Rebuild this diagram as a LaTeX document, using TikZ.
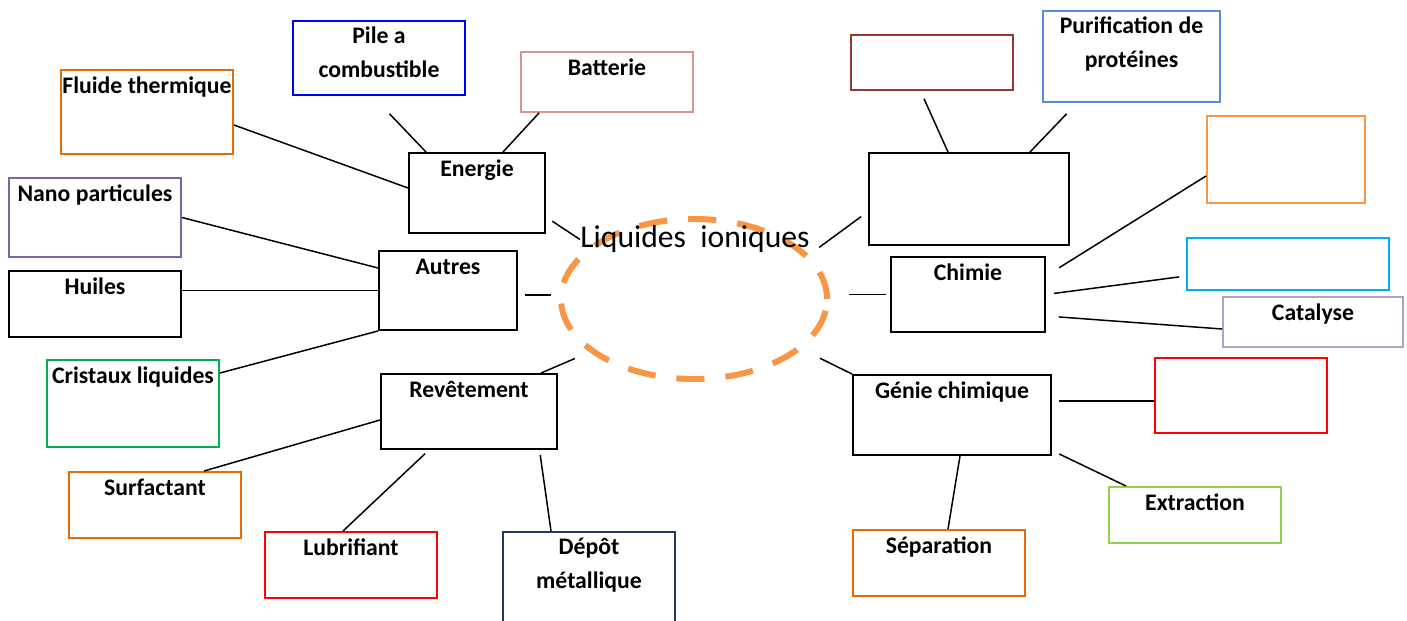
\documentclass[tikz,border=0pt]{standalone}
\usepackage{fontspec}
\setmainfont{Carlito}
\usepackage{xcolor}
\usetikzlibrary{shapes.geometric}

\definecolor{orangefonce}{HTML}{E46C0A}
\definecolor{orangeclair}{HTML}{F79646}
\definecolor{bleupile}{HTML}{0000FF}
\definecolor{rosebat}{HTML}{D99594}
\definecolor{violetnano}{HTML}{8064A2}
\definecolor{vertcrist}{HTML}{00B050}
\definecolor{rougevif}{HTML}{FF0000}
\definecolor{bleunuit}{HTML}{1F3864}
\definecolor{rougebrun}{HTML}{953735}
\definecolor{bleupuri}{HTML}{558ED5}
\definecolor{cyanvif}{HTML}{00B0F0}
\definecolor{lavande}{HTML}{B3A2C7}
\definecolor{vertclair}{HTML}{92D050}

\begin{document}
\begin{tikzpicture}[
	boite/.style={draw, line width=1.1pt, inner sep=0pt},
	etiq/.style={anchor=base, yshift=-0.48cm, inner sep=0pt, align=center, font=\fontsize{13.5}{18.8}\selectfont\bfseries},
	etiqdeux/.style={etiq, yshift=-0.66cm},
	lien/.style={line width=0.85pt}
]
	\clip (0,0) rectangle (28.14,-12.42);
	\fill[white] (0,0) rectangle (28.14,-12.42);

	\node[ellipse, draw=orangeclair, line width=3.4pt, dash pattern=on 16pt off 12pt, minimum width=5.32cm, minimum height=3.2cm, inner sep=0pt] (ovale) at (13.88,-5.98) {};
	\node[anchor=base, inner sep=0pt, font=\fontsize{18}{22}\selectfont] (centre) at (13.9,-4.96) {Liquides\ \ ioniques};

	\node[boite, draw=bleupile, minimum width=3.44cm, minimum height=1.48cm, label={[etiqdeux]north:{Pile a\\combustible}}] (pile) at (7.58,-1.16) {};
	\node[boite, draw=rosebat, minimum width=3.44cm, minimum height=1.2cm, label={[etiq]north:Batterie}] (batterie) at (12.14,-1.64) {};
	\node[boite, draw=orangefonce, minimum width=3.44cm, minimum height=1.68cm, label={[etiq]north:Fluide thermique}] (fluide) at (2.94,-2.24) {};
	\node[boite, minimum width=2.72cm, minimum height=1.6cm, label={[etiq]north:Energie}] (energie) at (9.54,-3.86) {};
	\node[boite, draw=violetnano, minimum width=3.44cm, minimum height=1.58cm, label={[etiq]north:Nano particules}] (nano) at (1.9,-4.35) {};
	\node[boite, minimum width=2.76cm, minimum height=1.58cm, label={[etiq]north:Autres}] (autres) at (8.96,-5.81) {};
	\node[boite, minimum width=3.44cm, minimum height=1.32cm, label={[etiq]north:Huiles}] (huiles) at (1.9,-6.08) {};
	\node[boite, draw=vertcrist, minimum width=3.44cm, minimum height=1.74cm, label={[etiq]north:Cristaux liquides}] (cristaux) at (2.66,-8.07) {};
	\node[boite, minimum width=3.52cm, minimum height=1.5cm, label={[etiq]north:Revêtement}] (revetement) at (9.38,-8.23) {};
	\node[boite, draw=orangefonce, minimum width=3.44cm, minimum height=1.32cm, label={[etiq]north:Surfactant}] (surfactant) at (3.1,-10.1) {};
	\node[boite, draw=rougevif, minimum width=3.44cm, minimum height=1.32cm, label={[etiq]north:Lubrifiant}] (lubrifiant) at (7.02,-11.3) {};
	\node[boite, draw=bleunuit, minimum width=3.44cm, minimum height=2cm, label={[etiqdeux]north:{Dépôt\\métallique}}] (depot) at (11.78,-11.64) {};

	\node[boite, draw=rougebrun, minimum width=3.24cm, minimum height=1.1cm] (vbrun) at (18.64,-1.25) {};
	\node[boite, draw=bleupuri, minimum width=3.54cm, minimum height=1.82cm, label={[etiqdeux]north:{Purification de\\protéines}}] (purification) at (22.63,-1.13) {};
	\node[boite, minimum width=4cm, minimum height=1.84cm] (vgrand) at (19.38,-3.98) {};
	\node[boite, draw=orangeclair, minimum width=3.16cm, minimum height=1.74cm] (vorange) at (25.72,-3.19) {};
	\node[boite, minimum width=3.08cm, minimum height=1.5cm, label={[etiq]north:Chimie}] (chimie) at (19.36,-5.89) {};
	\node[boite, draw=cyanvif, minimum width=4.04cm, minimum height=1.04cm] (vcyan) at (25.76,-5.28) {};
	\node[boite, draw=lavande, minimum width=3.6cm, minimum height=1cm, label={[etiq]north:Catalyse}] (catalyse) at (26.26,-6.44) {};
	\node[boite, draw=rougevif, minimum width=3.44cm, minimum height=1.5cm] (vrouge) at (24.82,-7.91) {};
	\node[boite, minimum width=3.96cm, minimum height=1.6cm, label={[etiq]north:Génie chimique}] (genie) at (19.04,-8.3) {};
	\node[boite, draw=vertclair, minimum width=3.44cm, minimum height=1.12cm, label={[etiq]north:Extraction}] (extraction) at (23.9,-10.3) {};
	\node[boite, draw=orangefonce, minimum width=3.44cm, minimum height=1.32cm, label={[etiq]north:Séparation}] (separation) at (18.78,-11.26) {};

	\draw[lien] ([yshift=-0.26cm]fluide.east) -- ([yshift=0.1cm]energie.west);
	\draw[lien, shorten <=0.49cm] ([xshift=-0.13cm]pile.south) -- ([xshift=-1.02cm]energie.north);
	\draw[lien] ([xshift=-1.36cm]batterie.south) -- ([xshift=0.52cm]energie.north);
	\draw[lien, shorten <=0.15cm] ([yshift=-0.48cm]energie.east) -- (centre.west);
	\draw[lien] (nano.east) -- ([yshift=0.45cm]autres.west);
	\draw[lien] (autres.west -| huiles.east) -- (autres.west);
	\draw[lien] ([yshift=0.61cm]cristaux.east) -- (autres.south west);
	\draw[lien, shorten <=0.14cm, shorten >=0.14cm] ([yshift=-0.09cm]autres.east) -- ([yshift=-0.09cm]autres.east -| ovale.west);
	\draw[lien, shorten <=0.32cm] (ovale.207) -- ([xshift=1.44cm]revetement.north);
	\draw[lien] ([xshift=0.98cm]surfactant.north) -- ([yshift=-0.17cm]revetement.west);
	\draw[lien, shorten >=0.11cm] ([xshift=-0.16cm]lubrifiant.north) -- ([xshift=-0.8cm]revetement.south);
	\draw[lien, shorten >=0.1cm] ([xshift=-0.76cm]depot.north) -- ([xshift=1.41cm]revetement.south);

	\draw[lien, shorten <=0.17cm] ([xshift=-0.23cm]vbrun.south) -- ([xshift=-0.42cm]vgrand.north);
	\draw[lien, shorten <=0.3cm] ([xshift=-1.09cm]purification.south) -- ([xshift=1.22cm]vgrand.north);
	\draw[lien, shorten <=0.25cm, shorten >=0.17cm] (ovale.21) -- ([yshift=-0.25cm]vgrand.west);
	\draw[lien, shorten <=0.38cm, shorten >=0.08cm] (ovale.east |- chimie.west) -- (chimie.west);
	\draw[lien, shorten <=0.31cm] ([yshift=0.37cm]chimie.east) -- ([yshift=-0.33cm]vorange.west);
	\draw[lien, shorten <=0.16cm, shorten >=0.14cm] (chimie.east) -- ([yshift=-0.24cm]vcyan.west);
	\draw[lien, shorten <=0.26cm] ([yshift=-0.43cm]chimie.east) -- ([yshift=-0.14cm]catalyse.west);
	\draw[lien, shorten <=0.4cm] (ovale.-25) -- (genie.north west);
	\draw[lien, shorten <=0.14cm] ([yshift=0.28cm]genie.east) -- ([yshift=0.28cm]genie.east -| vrouge.west);
	\draw[lien, shorten <=0.16cm] ([yshift=0.11cm]genie.south east) -- ([xshift=-1.38cm]extraction.north);
	\draw[lien] ([xshift=0.16cm]genie.south) -- ([xshift=0.18cm]separation.north);
\end{tikzpicture}
\end{document}
